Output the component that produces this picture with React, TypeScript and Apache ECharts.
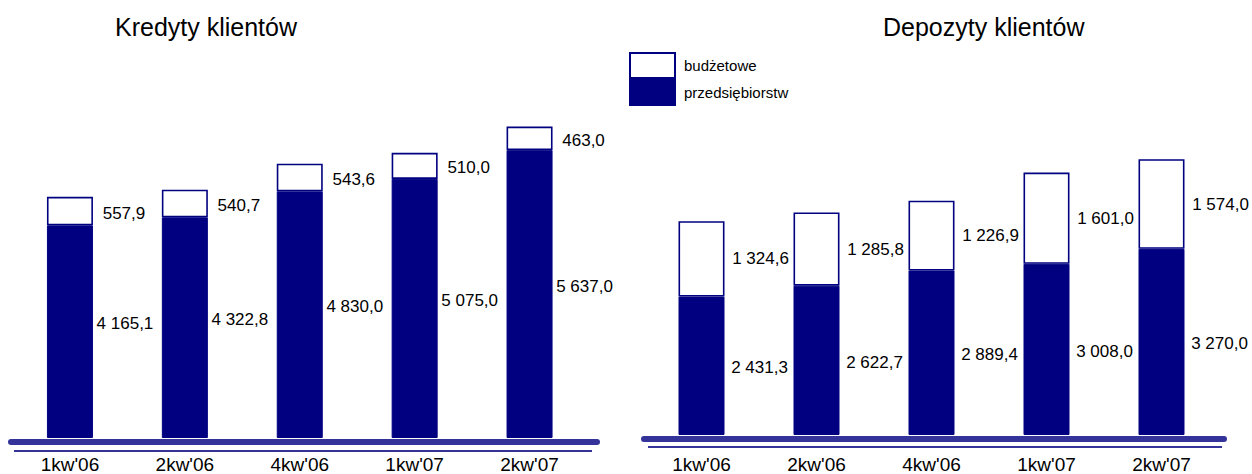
import React, { useEffect, useRef } from 'react';
import * as echarts from 'echarts';

// Quarters shown on both panels
const quarters = ["1kw'06", "2kw'06", "4kw'06", "1kw'07", "2kw'07"];

// Kredyty klientów (mln zł)
const loansBudget = [557.9, 540.7, 543.6, 510.0, 463.0];
const loansCorporate = [4165.1, 4322.8, 4830.0, 5075.0, 5637.0];

// Depozyty klientów (mln zł)
const depositsBudget = [1324.6, 1285.8, 1226.9, 1601.0, 1574.0];
const depositsCorporate = [2431.3, 2622.7, 2889.4, 3008.0, 3270.0];

const NAME_BUDGET = 'budżetowe';
const NAME_CORP = 'przedsiębiorstw';

const NAVY = '#000080';
const AXIS_BLUE = '#33339a';
const FONT = "'Liberation Sans', Arial, sans-serif";

// Polish number format: "4 165,1"
const fmt = (v: number): string => {
  const [i, d] = v.toFixed(1).split('.');
  return i.replace(/\B(?=(\d{3})+(?!\d))/g, ' ') + ',' + d;
};

const labelBase = {
  show: true,
  position: 'inside' as const,
  color: '#000',
  fontSize: 17,
  fontFamily: FONT,
  formatter: (p: any) => fmt(p.value),
};

const corpStyle = { color: NAVY, borderColor: NAVY, borderWidth: 1 };
const budgetStyle = { color: '#ffffff', borderColor: NAVY, borderWidth: 1.6 };

export default function App() {
  const ref = useRef<HTMLDivElement>(null);

  useEffect(() => {
    document.body.style.margin = '0';
    if (!ref.current) return;
    const chart = echarts.init(ref.current, undefined, { renderer: 'svg' });

    const xAxisCommon = (gridIndex: number, margin: number) => ({
      type: 'category' as const,
      gridIndex,
      data: quarters,
      axisLine: { show: false },
      axisTick: { show: false },
      axisLabel: { color: '#000', fontSize: 19, fontFamily: FONT, margin },
    });

    chart.setOption({
      animation: false,
      backgroundColor: '#ffffff',
      title: [
        {
          text: 'Kredyty klientów',
          left: 115,
          top: 14,
          padding: 0,
          textStyle: { fontSize: 25, fontWeight: 'normal', color: '#000', fontFamily: FONT },
        },
        {
          text: 'Depozyty klientów',
          left: 883,
          top: 14,
          padding: 0,
          textStyle: { fontSize: 25, fontWeight: 'normal', color: '#000', fontFamily: FONT },
        },
      ],
      legend: {
        orient: 'vertical',
        left: 629,
        top: 52,
        padding: 0,
        itemGap: 0,
        itemWidth: 45,
        itemHeight: 25,
        icon: 'rect',
        selectedMode: false,
        data: [NAME_BUDGET, NAME_CORP],
        textStyle: { color: '#000', fontSize: 15, fontFamily: FONT, padding: [0, 0, 0, 4] },
      },
      grid: [
        { left: 12.5, right: 665, top: 80.6, bottom: 35 },
        { left: 644, right: 33, top: 93.4, bottom: 38 },
      ],
      xAxis: [xAxisCommon(0, 17), xAxisCommon(1, 20)],
      yAxis: [
        { type: 'value', gridIndex: 0, min: 0, max: 7000, show: false },
        { type: 'value', gridIndex: 1, min: 0, max: 6000, show: false },
      ],
      series: [
        {
          name: NAME_CORP,
          type: 'bar',
          stack: 'loans',
          xAxisIndex: 0,
          yAxisIndex: 0,
          barWidth: 46,
          data: loansCorporate,
          itemStyle: corpStyle,
          label: { ...labelBase, offset: [55, -8] },
        },
        {
          name: NAME_BUDGET,
          type: 'bar',
          stack: 'loans',
          xAxisIndex: 0,
          yAxisIndex: 0,
          barWidth: 46,
          data: loansBudget,
          itemStyle: budgetStyle,
          label: { ...labelBase, offset: [54, 2] },
        },
        {
          name: NAME_CORP,
          type: 'bar',
          stack: 'deposits',
          xAxisIndex: 1,
          yAxisIndex: 1,
          barWidth: 46,
          data: depositsCorporate,
          itemStyle: corpStyle,
          label: { ...labelBase, offset: [58, 2] },
        },
        {
          name: NAME_BUDGET,
          type: 'bar',
          stack: 'deposits',
          xAxisIndex: 1,
          yAxisIndex: 1,
          barWidth: 46,
          data: depositsBudget,
          itemStyle: budgetStyle,
          label: { ...labelBase, offset: [59, 0] },
        },
      ],
      graphic: [
        // double base lines under each panel
        {
          type: 'line',
          shape: { x1: 11, y1: 442, x2: 597, y2: 442 },
          style: { stroke: AXIS_BLUE, lineWidth: 6, lineCap: 'round' },
        },
        {
          type: 'line',
          shape: { x1: 14, y1: 451, x2: 592, y2: 451 },
          style: { stroke: AXIS_BLUE, lineWidth: 2 },
        },
        {
          type: 'line',
          shape: { x1: 644, y1: 439, x2: 1224, y2: 439 },
          style: { stroke: AXIS_BLUE, lineWidth: 6, lineCap: 'round' },
        },
        {
          type: 'line',
          shape: { x1: 648, y1: 447, x2: 1222, y2: 447 },
          style: { stroke: AXIS_BLUE, lineWidth: 2 },
        },
      ],
    });

    return () => chart.dispose();
  }, []);

  return (
    <div
      ref={ref}
      style={{ position: 'fixed', left: 0, top: 0, width: 1252, height: 474, background: '#fff' }}
    />
  );
}
